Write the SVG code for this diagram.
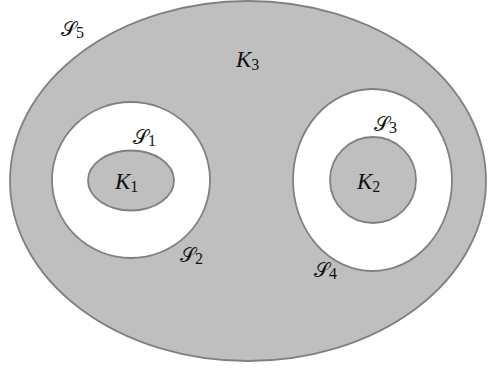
<svg xmlns="http://www.w3.org/2000/svg" width="488" height="370" viewBox="0 0 488 370">
<style>
.g{fill:#bfbfbf;stroke:#808080;stroke-width:1.8}
.w{fill:#ffffff;stroke:#808080;stroke-width:1.8}
.k{font-family:"Liberation Serif",serif;font-style:italic;font-size:23px;fill:#111}
.s{font-family:"DejaVu Sans","Noto Sans",serif;font-size:20px;fill:#111}
.sub{font-family:"Liberation Serif",serif;font-style:normal;font-size:16px}
</style>
<rect width="488" height="370" fill="#ffffff"/>
<g id="region-K3">
<ellipse class="g" cx="248" cy="181" rx="238" ry="180"/>
<text class="k" x="236" y="67">K<tspan class="sub" dy="3">3</tspan></text>
</g>
<g id="ring-left">
<ellipse class="w" cx="131" cy="180" rx="79" ry="78"/>
</g>
<g id="ring-right">
<ellipse class="w" cx="372.5" cy="180" rx="79.5" ry="91"/>
</g>
<g id="region-K1">
<ellipse class="g" cx="131" cy="180.5" rx="43" ry="30"/>
<text class="k" x="115" y="189">K<tspan class="sub" dy="3">1</tspan></text>
</g>
<g id="region-K2">
<circle class="g" cx="373" cy="180" r="43"/>
<text class="k" x="357" y="189">K<tspan class="sub" dy="3">2</tspan></text>
</g>
<g id="labels">
<text class="s" x="61" y="36">𝒮<tspan class="sub" dy="2">5</tspan></text>
<text class="s" x="133" y="144">𝒮<tspan class="sub" dy="2">1</tspan></text>
<text class="s" x="180" y="262">𝒮<tspan class="sub" dy="2">2</tspan></text>
<text class="s" x="374" y="131">𝒮<tspan class="sub" dy="2">3</tspan></text>
<text class="s" x="314" y="277">𝒮<tspan class="sub" dy="2">4</tspan></text>
</g>
</svg>
